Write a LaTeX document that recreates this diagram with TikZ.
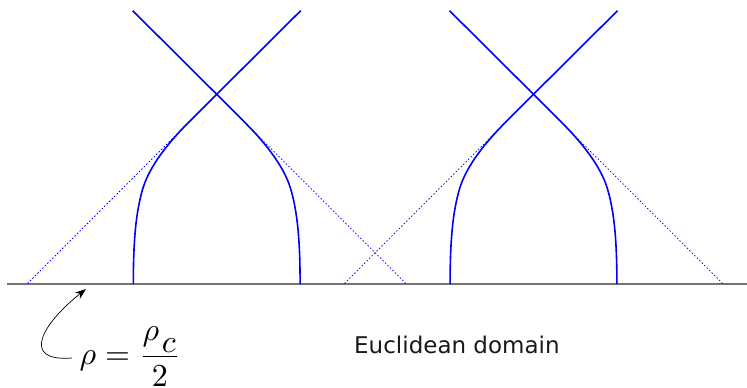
\documentclass[tikz,border=0pt]{standalone}
\usepackage{fontspec}
\newfontfamily\dejavu{DejaVu Sans}
\usetikzlibrary{arrows.meta}
\begin{document}
\begin{tikzpicture}[x=1pt,y=-1pt,
  curve/.style={blue, line width=1.6pt, line join=round},
  guide/.style={blue, line width=0.75pt, dash pattern=on 1.5pt off 2pt},
  ground/.style={black!55, line width=1.1pt},
  pointer/.style={black, line width=0.7pt, -{Stealth[length=11pt,width=8pt]}}]
\useasboundingbox (0,0) rectangle (747,388);
\draw[ground] (7,284) -- (747,284);
\foreach \cx in {216.7,533.5}{
\begin{scope}[shift={(\cx,0)}]
  \draw[guide] (0,94.3) -- (-189.7,284);
  \draw[guide] (0,94.3) -- (189.7,284);
  \draw[curve] (84,10.7) -- (0,94.3) -- (-28.7,123)
     .. controls (-46.7,141) and (-66.7,165) .. (-73.7,188)
     .. controls (-80.7,211) and (-83.4,240) .. (-83.4,284);
  \draw[curve] (-84,10.7) -- (0,94.3) -- (28.7,123)
     .. controls (46.7,141) and (66.7,165) .. (73.7,188)
     .. controls (80.7,211) and (83.4,240) .. (83.4,284);
\end{scope}}
\node[anchor=base west, inner sep=0, scale=3.2] (rho) at (79,364.7) {$\displaystyle\rho=\frac{\rho_{\kern0.08em\raisebox{-0.22em}{$c$}}}{2}$};
\node[anchor=base west, inner sep=0, font=\dejavu\fontsize{23}{28}\selectfont, text=black!90] (dom) at (354,353.3) {Euclidean domain};
\coordinate (tail) at (72,358);
\coordinate (tip) at (86,289);
\draw[pointer] (tail) .. controls (20,362) and (42,324) .. (tip);
\end{tikzpicture}
\end{document}
